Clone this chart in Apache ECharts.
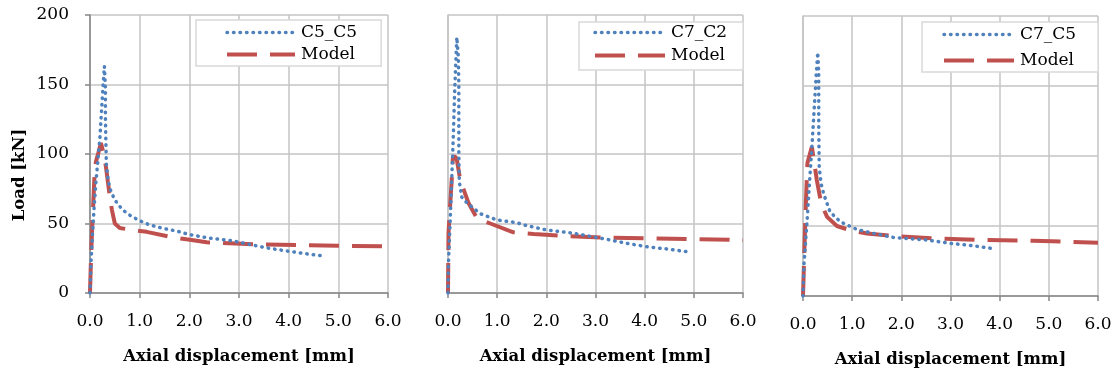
<!DOCTYPE html>
<html>
<head>
<meta charset="utf-8">
<script src="https://cdn.jsdelivr.net/npm/echarts@6/dist/echarts.min.js"></script>
<style>
  html, body { margin: 0; padding: 0; background: #fff; }
  #chart { width: 1117px; height: 373px; }
</style>
</head>
<body>
<div id="chart"></div>
<script>
// measured curves, [displacement mm, load kN]
const c5c5 = [[0,0],[0.02,22],[0.05,42],[0.08,60],[0.12,80],[0.16,96],[0.2,112],[0.23,130],[0.26,148],[0.29,163],
  [0.31,148],[0.31,128],[0.32,108],[0.33,92],[0.37,80],[0.43,72],[0.52,66],[0.65,60],[0.8,56],[0.97,52.5],[1.2,49],
  [1.47,46.5],[1.75,44.5],[2.0,42],[2.4,39.5],[2.88,37.5],[3.2,35],[3.55,32.5],[4.0,30],[4.4,28],[4.73,26.5]]
const model1 = [[0,0],[0.02,25],[0.05,52],[0.09,84],[0.12,94.5],[0.17,101],[0.22,108],[0.27,101],[0.32,91],[0.36,80],
  [0.39,72],[0.44,60],[0.5,50],[0.6,46.7],[0.77,45.8],[1.14,44],[1.6,40.5],[1.94,38.6],[2.35,36.5],[3.3,35],
  [4.23,34.5],[5.0,34],[6.0,33.5]]
const c7c2 = [[0,0],[0.01,22],[0.05,57],[0.08,86],[0.11,115],[0.13,139],[0.155,163],[0.18,184],[0.21,170],[0.22,150],
  [0.22,127],[0.22,100],[0.23,80],[0.28,69],[0.35,66],[0.45,63],[0.66,57],[1.0,52.5],[1.4,50.6],[1.54,49],[2.01,45.3],
  [2.55,43],[3.23,38.6],[3.64,35.7],[4.04,33.3],[4.5,31.5],[4.86,29.7]]
const model2 = [[0,0],[0.01,43],[0.05,67],[0.08,84],[0.1,98],[0.15,98],[0.18,96],[0.25,81],[0.42,64.5],[0.59,53.7],
  [0.86,50],[1.33,43.7],[1.74,42.4],[2.28,41.2],[3.1,40],[4.04,39.3],[5.0,38.8],[5.88,38.1],[6.0,38]]
const c7c5 = [[0,0],[0.02,23],[0.08,52],[0.13,80],[0.18,106],[0.23,135],[0.27,159],[0.3,174],[0.32,159],[0.32,140],
  [0.32,121],[0.33,92],[0.37,80],[0.42,73],[0.55,60],[0.76,53],[1.1,47.5],[1.4,45],[1.84,41.8],[2.52,40],[3.0,37.6],
  [3.33,36.4],[3.6,35.2],[3.84,34]]
const model3 = [[0,0],[0.03,35],[0.06,68],[0.09,95],[0.18,106.5],[0.23,95],[0.28,83],[0.37,66],[0.49,56.5],[0.69,50],
  [1.0,46.5],[1.3,44.7],[1.84,42.8],[2.72,41.1],[3.67,40],[4.69,39.4],[5.43,38.7],[6.0,38]]

const testNames = ['C5_C5', 'C7_C2', 'C7_C5']
const testData = [c5c5, c7c2, c7c5]
const modelData = [model1, model2, model3]

const font = 'DejaVu Serif'
const gridColor = '#c4c4c4'
const axisColor = '#868686'
const blue = '#4f81bd'
const red = '#c0504d'
const dotStyle = { color: blue, width: 3.5, type: [0.5, 6], cap: 'round' }
const dashStyle = { color: red, width: 4, type: [30, 13] }

const grids = [
  { left: 90, top: 15, width: 298, height: 278 },
  { left: 448, top: 15, width: 295, height: 278 },
  { left: 803, top: 16, width: 295, height: 280 }
]
const legendBox = [
  { left: 196, top: 20, padding: [4, 24, 3, 29], gap: 5 },
  { left: 579, top: 22, padding: [2, 16, 6, 14], gap: 6 },
  { left: 922, top: 22, padding: [4, 22, 3, 20], gap: 9 }
]

const chart = echarts.init(document.getElementById('chart'))

const option = {
  backgroundColor: '#fff',
  animation: false,
  textStyle: { fontFamily: font, color: '#000' },
  grid: grids,
  xAxis: grids.map((g, i) => ({
    type: 'value',
    gridIndex: i,
    min: 0,
    max: 6,
    interval: 1,
    name: 'Axial displacement [mm]',
    nameLocation: 'middle',
    nameGap: 55,
    nameTextStyle: { fontFamily: font, fontWeight: 'bold', fontSize: 16.5, color: '#000' },
    axisLine: { show: true, lineStyle: { color: axisColor, width: 1.5 } },
    axisTick: { show: true, length: 5, lineStyle: { color: axisColor, width: 1.5 } },
    axisLabel: { fontFamily: font, fontSize: 17, color: '#000', margin: 20, formatter: v => v.toFixed(1) },
    splitLine: { show: true, lineStyle: { color: gridColor, width: 1.5 } }
  })),
  yAxis: grids.map((g, i) => ({
    type: 'value',
    gridIndex: i,
    min: 0,
    max: 200,
    interval: 50,
    axisLine: { show: true, lineStyle: { color: i === 0 ? axisColor : gridColor, width: 1.5 } },
    axisTick: { show: i === 0, length: 5, lineStyle: { color: axisColor, width: 1.5 } },
    axisLabel: { show: i === 0, fontFamily: font, fontSize: 17, color: '#000', margin: 21 },
    splitLine: { show: true, lineStyle: { color: gridColor, width: 1.5 } }
  })),
  legend: legendBox.map((b, i) => ({
    left: b.left,
    top: b.top,
    orient: 'vertical',
    data: [
      { name: testNames[i], lineStyle: dotStyle, itemStyle: { opacity: 0 } },
      { name: 'Model', lineStyle: dashStyle, itemStyle: { opacity: 0 } }
    ],
    itemWidth: i === 0 ? 68 : 70,
    itemHeight: 14,
    itemGap: b.gap,
    padding: b.padding,
    borderColor: '#d9d9d9',
    borderWidth: 1.5,
    backgroundColor: '#fff',
    selectedMode: false,
    textStyle: { fontFamily: font, fontSize: 17, color: '#000', padding: [0, 0, 0, 1] }
  })),
  graphic: [{
    type: 'text',
    x: 20,
    y: 175,
    rotation: Math.PI / 2,
    style: {
      text: 'Load [kN]',
      font: 'bold 16.5px "DejaVu Serif"',
      fill: '#000',
      align: 'center',
      verticalAlign: 'middle'
    }
  }],
  series: []
}

for (let i = 0; i < 3; i++) {
  option.series.push({
    name: 'Model',
    type: 'line',
    xAxisIndex: i,
    yAxisIndex: i,
    data: modelData[i],
    symbol: 'none',
    lineStyle: dashStyle,
    itemStyle: { color: red },
    z: 2
  })
  option.series.push({
    name: testNames[i],
    type: 'line',
    xAxisIndex: i,
    yAxisIndex: i,
    data: testData[i],
    symbol: 'none',
    lineStyle: dotStyle,
    itemStyle: { color: blue },
    z: 3
  })
}

chart.setOption(option)
</script>
</body>
</html>
